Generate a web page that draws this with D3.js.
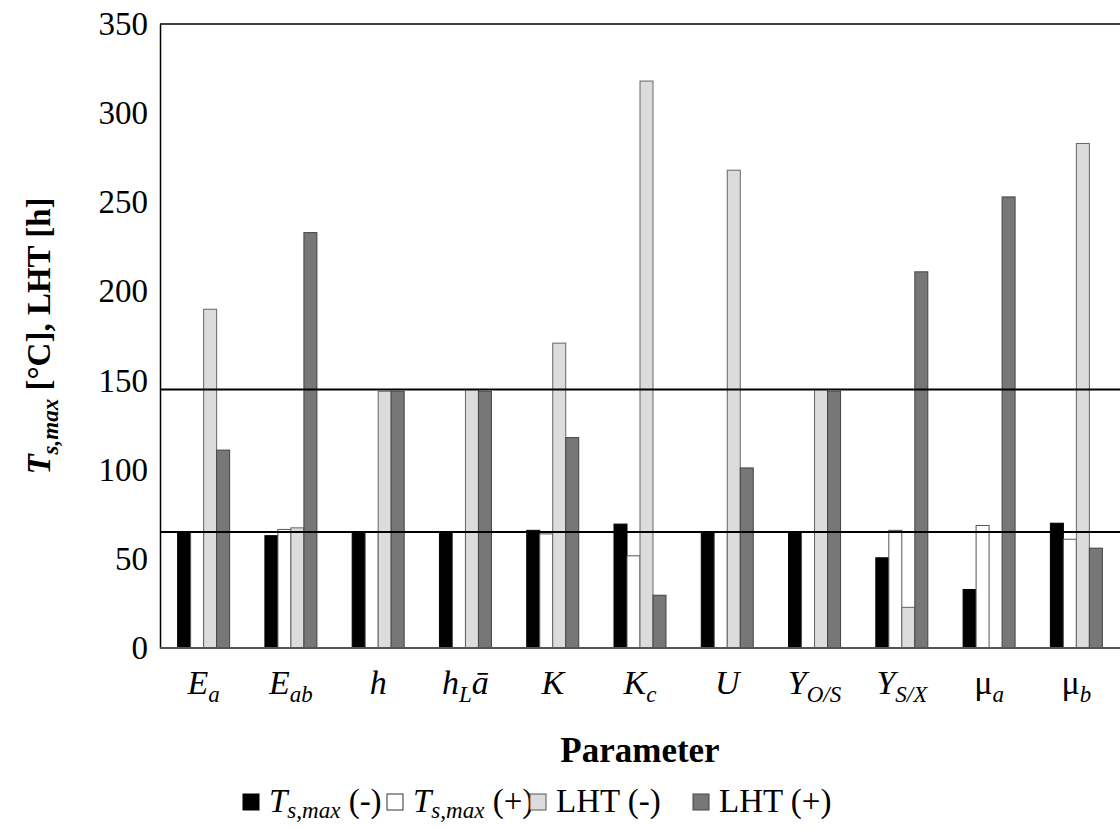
<!DOCTYPE html>
<html><head><meta charset="utf-8">
<script src="https://cdn.jsdelivr.net/npm/d3@7"></script>
<style>body{margin:0;background:#fff}svg text{font-family:"Liberation Serif","DejaVu Serif",serif !important}</style>
</head><body>
<svg id="c" width="1120" height="829"></svg>
<script>
// categories: [base, subscript, trailing]
const categories = [["E","a"],["E","ab"],["h",""],["h","L","ā"],["K",""],["K","c"],["U",""],["Y","O/S"],["Y","S/X"],["μ","a"],["μ","b"]];
const tsMinus = [65, 63, 65, 65, 66, 69.5, 65, 65, 50.6, 32.8, 70];
const tsPlus  = [65, 66.5, 65, 65, 64, 51.7, 65, 65, 66, 68.7, 61];
const lhtMinus = [190, 67.4, 144, 145, 171, 318, 268, 145, 22.8, 0, 283];
const lhtPlus  = [111, 233, 144, 144, 118, 29.6, 101, 144, 211, 253, 56];
const refLines = [145, 65];
const yTicks = [0, 50, 100, 150, 200, 250, 300, 350];

const series = [
  {vals: tsMinus, fill: "#000", stroke: "#000"},
  {vals: tsPlus, fill: "#fff", stroke: "#555"},
  {vals: lhtMinus, fill: "#dcdcdc", stroke: "#666"},
  {vals: lhtPlus, fill: "#777", stroke: "#444"}
];

const svg = d3.select("#c");
const L = 160, R = 1120, T = 24, B = 648;
const x = d3.scaleBand().domain(d3.range(categories.length)).range([L, R]);
const y = d3.scaleLinear().domain([0, 350]).range([B, T]);
const bw = 13;

// bars
series.forEach((s, si) => {
  svg.append("g").selectAll("rect").data(s.vals).join("rect")
    .attr("x", (d, i) => x(i) + x.bandwidth() / 2 - 2 * bw + si * bw)
    .attr("width", bw)
    .attr("y", d => y(d))
    .attr("height", d => B - y(d))
    .attr("fill", s.fill).attr("stroke", s.stroke).attr("stroke-width", 1);
});

// reference lines and frame
svg.selectAll(".ref").data(refLines).join("line")
  .attr("x1", L).attr("x2", R).attr("y1", d => y(d)).attr("y2", d => y(d))
  .attr("stroke", "#000").attr("stroke-width", 2);
svg.append("line").attr("x1", L).attr("x2", R).attr("y1", T).attr("y2", T).attr("stroke", "#000").attr("stroke-width", 1.5);

// y axis
const ya = svg.append("g").attr("transform", `translate(${L},0)`)
  .call(d3.axisLeft(y).tickValues(yTicks).tickSize(0).tickPadding(12));
ya.attr("font-family", null);
ya.select(".domain").attr("stroke", "#000").attr("stroke-width", 1.5);
ya.selectAll("text").attr("font-size", 33).attr("fill", "#000");
svg.append("line").attr("x1", L).attr("x2", R).attr("y1", B).attr("y2", B).attr("stroke", "#555").attr("stroke-width", 2);

// category labels
const cl = svg.append("g").selectAll("text").data(categories).join("text")
  .attr("x", (d, i) => x(i) + x.bandwidth() / 2).attr("y", 694)
  .attr("text-anchor", "middle").attr("font-size", 34);
cl.each(function (d) {
  const t = d3.select(this);
  t.append("tspan").attr("font-style", d[0] === "μ" ? "normal" : "italic").text(d[0]);
  if (d[1]) t.append("tspan").attr("font-style", "italic").attr("font-size", 23).attr("dy", 8).text(d[1]);
  if (d[2]) t.append("tspan").attr("font-style", "italic").attr("dy", -8).text(d[2]);
});

// axis titles
svg.append("text").attr("x", 640).attr("y", 762).attr("text-anchor", "middle")
  .attr("font-size", 35).attr("font-weight", "bold").text("Parameter");
const yl = svg.append("text").attr("transform", "translate(50,336) rotate(-90)")
  .attr("text-anchor", "middle").attr("font-size", 33).attr("font-weight", "bold");
yl.append("tspan").attr("font-style", "italic").text("T");
yl.append("tspan").attr("font-style", "italic").attr("font-size", 23).attr("dy", 8).text("s,max");
yl.append("tspan").attr("dy", -8).text(" [°C], LHT [h]");

// legend
const legend = [
  {x: 243, fill: "#000", stroke: "#000", t: ["T", "s,max", " (-)"]},
  {x: 387, fill: "#fff", stroke: "#333", t: ["T", "s,max", " (+)"]},
  {x: 530, fill: "#dcdcdc", stroke: "#555", t: ["", "", "LHT (-)"]},
  {x: 693, fill: "#777", stroke: "#444", t: ["", "", "LHT (+)"]}
];
const lg = svg.append("g").selectAll("g").data(legend).join("g");
lg.append("rect").attr("x", d => d.x).attr("y", 794).attr("width", 16).attr("height", 16)
  .attr("fill", d => d.fill).attr("stroke", d => d.stroke);
lg.append("text").attr("x", d => d.x + 26).attr("y", 812).attr("font-size", 33)
  .each(function (d) {
    const t = d3.select(this);
    if (d.t[0]) {
      t.append("tspan").attr("font-style", "italic").text(d.t[0]);
      t.append("tspan").attr("font-style", "italic").attr("font-size", 23).attr("dy", 6).text(d.t[1]);
      t.append("tspan").attr("dy", -6).text(d.t[2]);
    } else t.append("tspan").text(d.t[2]);
  });
</script>
</body></html>
